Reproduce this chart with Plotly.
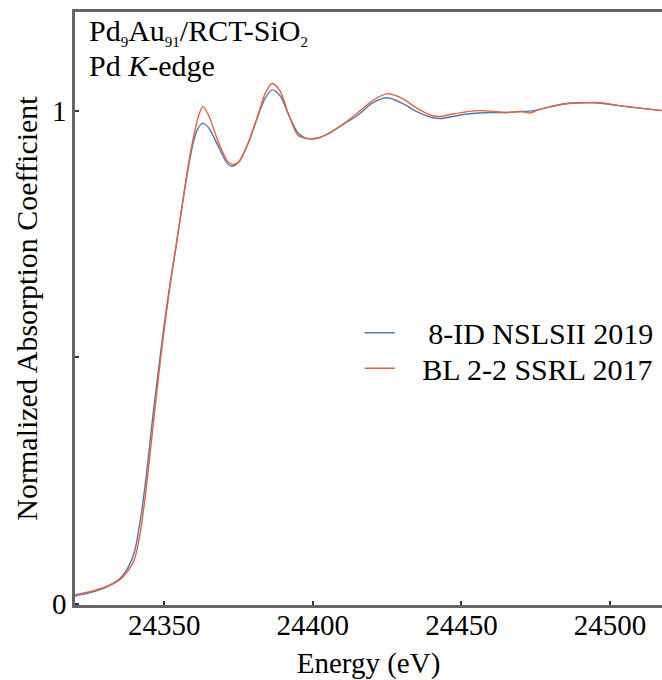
import plotly.graph_objects as go

# Energy grid (eV) and normalized absorption for both beamlines
energy = [24320, 24325, 24330, 24335, 24338, 24340, 24342, 24344, 24346, 24348,
          24350, 24352, 24354, 24356, 24358, 24360, 24361.5, 24363, 24365, 24368,
          24371, 24372.8, 24375, 24378, 24381, 24384, 24386.3, 24389, 24392, 24395,
          24398.4, 24402, 24406, 24411, 24415, 24420, 24425, 24430, 24435, 24440,
          24443, 24447, 24452, 24456, 24460, 24465, 24470, 24473, 24476, 24480,
          24485, 24491, 24497, 24503, 24510, 24517.5]

nsls_2019 = [0.015, 0.022, 0.032, 0.050, 0.075, 0.105, 0.170, 0.260, 0.370, 0.470,
             0.565, 0.650, 0.725, 0.805, 0.880, 0.940, 0.965, 0.974, 0.965, 0.930,
             0.895, 0.887, 0.895, 0.930, 0.980, 1.025, 1.042, 1.030, 0.990, 0.955,
             0.943, 0.945, 0.956, 0.975, 0.990, 1.015, 1.026, 1.015, 0.998, 0.986,
             0.984, 0.988, 0.993, 0.995, 0.996, 0.996, 0.998, 0.999, 1.002, 1.008,
             1.014, 1.016, 1.015, 1.010, 1.005, 1.000]

ssrl_2017 = [0.018, 0.024, 0.033, 0.048, 0.068, 0.090, 0.145, 0.235, 0.345, 0.455,
             0.555, 0.645, 0.725, 0.805, 0.885, 0.950, 0.988, 1.008, 0.990, 0.940,
             0.900, 0.891, 0.895, 0.930, 0.980, 1.035, 1.055, 1.040, 0.990, 0.950,
             0.943, 0.945, 0.956, 0.976, 0.995, 1.020, 1.034, 1.025, 1.005, 0.990,
             0.988, 0.993, 0.998, 1.000, 0.999, 0.996, 0.998, 0.995, 1.002, 1.008,
             1.014, 1.016, 1.016, 1.010, 1.005, 1.000]

series_names = ["8-ID NSLSII 2019", "BL 2-2 SSRL 2017"]
series_colors = ["#5576AC", "#E2643C"]

x_ticks = [24350, 24400, 24450, 24500]
y_tickvals = [0, 0.5, 1]
y_ticktext = ["0", "", "1"]

FONT = "'Liberation Serif', 'Times New Roman', serif"
pads = ["\u00a0\u00a0\u00a0\u2009", "\u00a0\u00a0\u00a0"]
legend_ids = ["legend", "legend2"]

fig = go.Figure()
for name, vals, col, pad, lg in zip(series_names, [nsls_2019, ssrl_2017],
                                    series_colors, pads, legend_ids):
    fig.add_trace(go.Scatter(
        x=energy, y=vals, mode="lines", name=pad + name, legend=lg,
        line=dict(color=col, width=1.4, shape="spline", smoothing=0.8),
    ))

legend_style = dict(xanchor="left", yanchor="top", bgcolor="rgba(0,0,0,0)",
                    font=dict(size=30, family=FONT, color="black"), itemwidth=30)

fig.update_layout(
    width=662, height=680,
    margin=dict(l=75, r=0, t=12, b=75),
    paper_bgcolor="white", plot_bgcolor="white",
    font=dict(family=FONT, size=29, color="black"),
    showlegend=True,
    legend=dict(x=0.485, y=0.503, **legend_style),
    legend2=dict(x=0.485, y=0.443, **legend_style),
    xaxis=dict(
        range=[24320, 24517.5], tickvals=x_ticks, tickformat="d",
        ticks="inside", ticklen=4, tickcolor="#333", tickwidth=1.5,
        ticklabelstandoff=-8,
        showline=True, linecolor="#666", linewidth=2.5, mirror=True,
        showgrid=False, zeroline=False,
        tickfont=dict(size=29, family=FONT),
        title=dict(text="Energy (eV)", font=dict(size=29, family=FONT), standoff=16),
    ),
    yaxis=dict(
        range=[-0.003, 1.2], tickvals=y_tickvals, ticktext=y_ticktext,
        ticks="inside", ticklen=4, tickcolor="#333", tickwidth=1.5,
        showline=True, linecolor="#666", linewidth=2.5, mirror=False,
        showgrid=False, zeroline=False,
        tickfont=dict(size=29, family=FONT),
        title=dict(text="Normalized Absorption Coefficient",
                   font=dict(size=30, family=FONT), standoff=6),
    ),
)

sub = '<sub><span style="font-size:15px">{}</span></sub>'
fig.add_annotation(
    text="Pd" + sub.format("9") + "Au" + sub.format("91") + "/RCT-SiO" + sub.format("2"),
    xref="paper", yref="paper", x=0.021, y=0.966, xanchor="left", yanchor="middle",
    showarrow=False, font=dict(size=30, family=FONT),
)
fig.add_annotation(
    text="Pd <i>K</i>-edge",
    xref="paper", yref="paper", x=0.021, y=0.91, xanchor="left", yanchor="middle",
    showarrow=False, font=dict(size=30, family=FONT),
)

fig.write_html("out.html")
